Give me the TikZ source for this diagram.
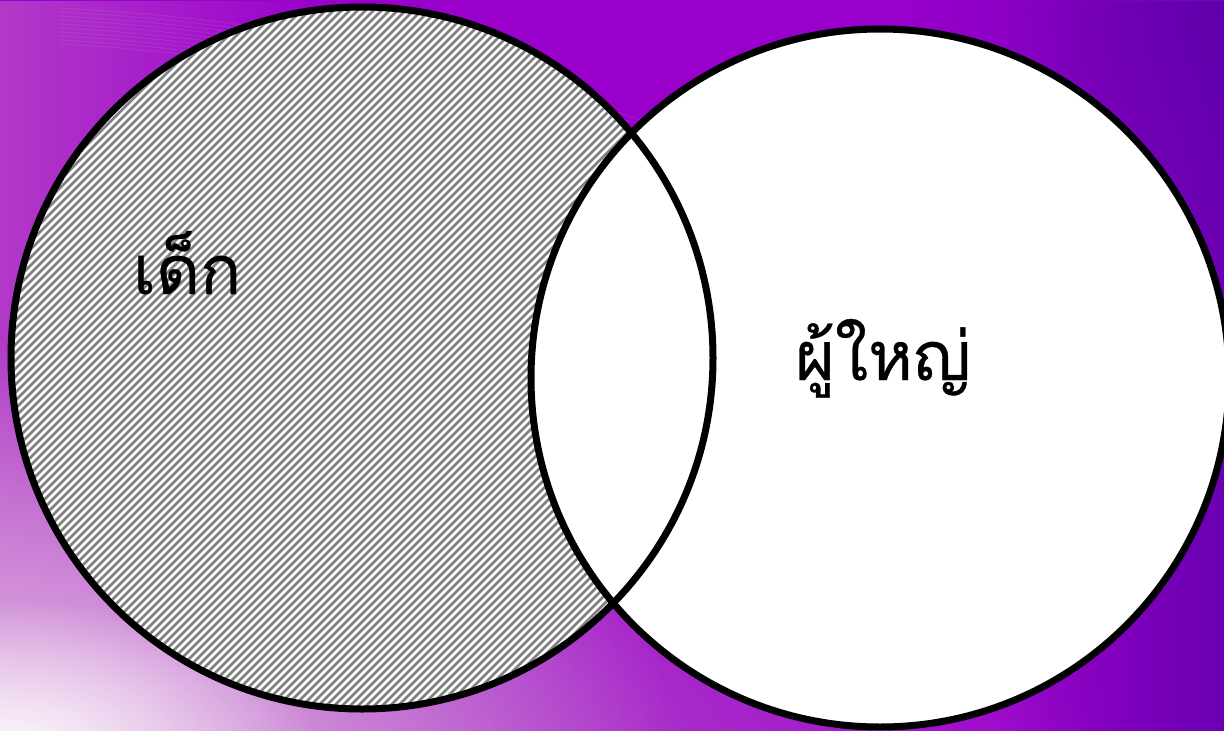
\documentclass[tikz,border=0pt]{standalone}
\usepackage{fontspec}
\newfontfamily\thaifont[Script=Thai,FakeBold=0.5]{Loma}
\usetikzlibrary{fadings}
\definecolor{bgpurple}{HTML}{9A00CC}
\definecolor{leftmag}{HTML}{B848C8}
\definecolor{midmag}{HTML}{B858C8}
\definecolor{pinkglow}{HTML}{E4C0E4}
\definecolor{darkviolet}{HTML}{5A00A8}
\definecolor{hatchgray}{HTML}{808080}
\tikzfading[name=radfade, inner color=transparent!0, outer color=transparent!100]
\tikzset{
  ring/.style={draw=black, line width=7pt},
  hatchline/.style={draw=hatchgray, line width=2.6pt},
  thailabel/.style={font=\thaifont\fontsize{68}{80}\selectfont, text=black, inner sep=0pt},
}
\begin{document}
\begin{tikzpicture}[x=1pt,y=-1pt]
\useasboundingbox (0,0) rectangle (1224,731);
% background
\fill[bgpurple] (0,0) rectangle (1224,731);
\fill[leftmag, path fading=east, opacity=0.8] (0,0) rectangle (320,731);
\fill[midmag, path fading=radfade] (250,820) ellipse (900 and 500);
\fill[pinkglow, path fading=radfade] (0,760) ellipse (680 and 420);
\fill[white, path fading=radfade, opacity=0.9] (0,750) ellipse (320 and 150);
\fill[darkviolet, path fading=west, opacity=0.75] (1000,0) rectangle (1224,731);
\fill[darkviolet, path fading=radfade, opacity=0.6] (1224,0) ellipse (330 and 260);
% light streaks at the top
\foreach \i in {0,...,9}{
  \draw[white, opacity=0.07, line width=1.2pt] (60,{8+4*\i}) .. controls (300,{20+4*\i}) and (500,{70+5*\i}) .. (640,{120+5*\i});
}
\coordinate (cl) at (362,358);
\coordinate (cr) at (880,378);
% left circle: hatched
\fill[white] (cl) circle (351);
\begin{scope}
  \clip (cl) circle (351);
  \foreach \x in {-720,-712,...,740}{
    \draw[hatchline] (\x,720) -- (\x+720,0);
  }
\end{scope}
% right circle: white, covers the overlap
\fill[white] (cr) circle (349);
\draw[ring] (cl) circle (351);
\draw[ring] (cr) circle (349);
% labels
\node[thailabel, anchor=base] (kid) at (187,294) {เด็ก};
\node[thailabel, anchor=base] (adult) at (883,380) {ผู้ใหญ่};
\end{tikzpicture}
\end{document}
